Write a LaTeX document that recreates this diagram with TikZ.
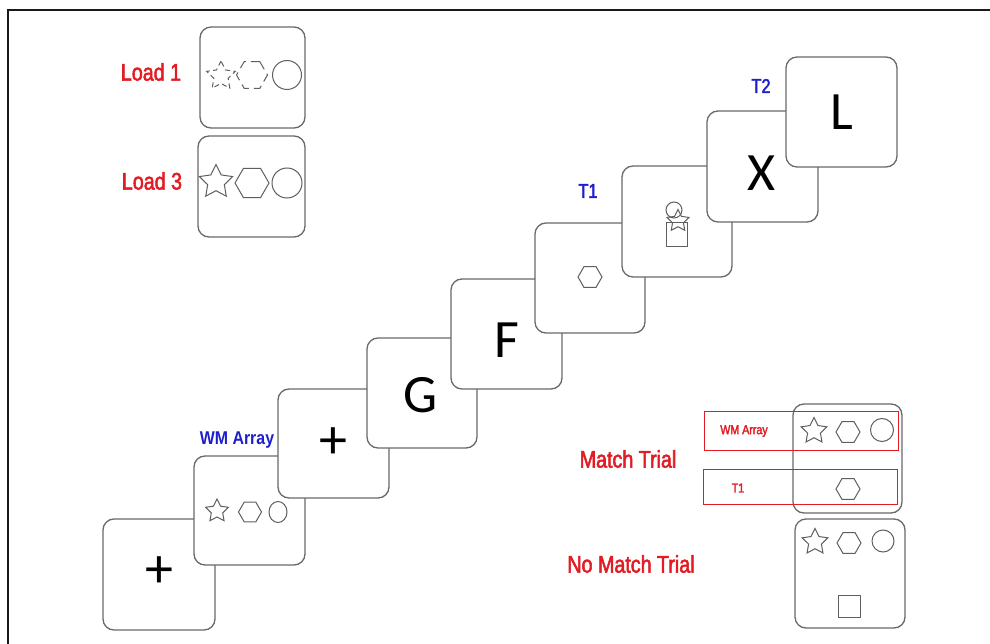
\documentclass[tikz,border=0pt]{standalone}
\usepackage{fontspec}
\setmainfont{Carlito}
\newfontfamily\lblfont[FakeStretch=0.82,FakeBold=2.2]{Liberation Sans}
\newfontfamily\wmfont[FakeStretch=0.86]{Liberation Sans}
\usetikzlibrary{shapes.geometric}
\definecolor{cardgray}{RGB}{105,105,105}
\definecolor{shapegray}{RGB}{95,95,95}
\definecolor{lred}{RGB}{226,28,36}
\definecolor{lblue}{RGB}{30,30,205}
\tikzset{
  card/.style={draw=cardgray, fill=white, line width=1.3pt, rounded corners=11pt, inner sep=0pt},
  shp/.style={draw=shapegray, line width=1pt, inner sep=0pt},
  starshp/.style={shp, star, star points=5, star point ratio=2.0},
  hexshp/.style={shp, regular polygon, regular polygon sides=6},
  circshp/.style={shp, circle},
  big/.style={inner sep=0pt, font=\fontsize{54}{54}\selectfont},
  plusglyph/.style={inner sep=0pt, font=\fontsize{56}{56}\selectfont},
  redlbl/.style={text=lred, inner sep=0pt, font=\lblfont\fontsize{24}{24}\selectfont},
  redsmall/.style={text=lred, inner sep=0pt, font=\lblfont\fontsize{13}{13}\selectfont},
  bluelbl/.style={text=lblue, inner sep=0pt, font=\lblfont\fontsize{20}{20}\selectfont},
  bluebold/.style={text=lblue, inner sep=0pt, font=\wmfont\bfseries\fontsize{18.5}{18.5}\selectfont},
  redbox/.style={draw=lred, line width=1pt},
}
\begin{document}
\begin{tikzpicture}[x=1pt,y=-1pt]
\useasboundingbox (0,0) rectangle (990,644);
\fill[white] (0,0) rectangle (990,644);
% frame
\draw[line width=2.2pt, black!90] (8,644) -- (8,10) -- (990,10);

% load examples
\node[card, minimum width=105pt, minimum height=101pt] (load1) at (252.5,77.5) {};
\node[starshp, minimum size=30pt, dash pattern=on 5pt off 3.5pt] (l1s) at (221,76) {};
\node[hexshp, minimum size=31pt, dash pattern=on 9pt off 5pt] (l1h) at (252,75) {};
\node[circshp, minimum size=29pt] (l1c) at (287,75) {};
\node[redlbl] (load1lbl) at (151,72) {Load 1};

\node[card, minimum width=107pt, minimum height=101pt] (load3) at (251.5,186.5) {};
\node[starshp, minimum size=35pt] (l3s) at (216,182) {};
\node[hexshp, minimum size=34pt] (l3h) at (252,183) {};
\node[circshp, minimum size=30pt] (l3c) at (287,183) {};
\node[redlbl] (load3lbl) at (152,181) {Load 3};

% sequence
\node[card, minimum width=112pt, minimum height=111pt] (c1) at (159,574.5) {};
\node[plusglyph] (p1) at (159,572) {+};

\node[card, minimum width=111pt, minimum height=109pt] (c2) at (249.5,510.5) {};
\node[starshp, minimum size=24pt] (c2s) at (217,511) {};
\node[hexshp, minimum size=23pt] (c2h) at (250,512) {};
\node[shp, ellipse, minimum width=18pt, minimum height=21pt] (c2c) at (278,512) {};
\node[bluebold] (wmlbl) at (237,440) {WM Array};

\node[card, minimum width=111pt, minimum height=109pt] (c3) at (333.5,443.5) {};
\node[plusglyph] (p3) at (333,443) {+};

\node[card, minimum width=110pt, minimum height=110pt] (c4) at (422,393) {};
\node[big] (g) at (421,395) {G};

\node[card, minimum width=111pt, minimum height=110pt] (c5) at (506.5,334) {};
\node[big] (f) at (507,340) {F};

\node[card, minimum width=110pt, minimum height=110pt] (c6) at (590,278) {};
\node[hexshp, minimum size=24pt] (c6h) at (590,277) {};

\node[card, minimum width=110pt, minimum height=111pt] (c7) at (677,221.5) {};
\node[circshp, minimum size=16pt] (c7c) at (674,210) {};
\node[shp, rectangle, minimum width=21pt, minimum height=24pt] (c7r) at (676.5,235) {};
\node[starshp, minimum size=23pt] (c7s) at (678,221) {};
\node[bluelbl] (t1lbl) at (588,191) {T1};

\node[card, minimum width=111pt, minimum height=111pt] (c8) at (762.5,166.5) {};
\node[big] (x) at (762,173) {X};
\node[bluelbl] (t2lbl) at (761,86) {T2};

\node[card, minimum width=111pt, minimum height=110pt] (c9) at (841.5,112) {};
\node[big] (l) at (842,112) {L};

% match trial
\node[card, minimum width=109pt, minimum height=109pt] (mt) at (847.5,458.5) {};
\node[starshp, minimum size=27pt] (mts) at (814,431) {};
\node[hexshp, minimum size=24pt] (mth) at (848,432) {};
\node[circshp, minimum size=23pt] (mtc) at (882,430) {};
\node[hexshp, minimum size=24pt] (mth2) at (848,489) {};
\node[redbox, minimum width=194pt, minimum height=39pt, inner sep=0pt] (rb1) at (801,430.5) {};
\node[redbox, minimum width=194pt, minimum height=35pt, inner sep=0pt] (rb2) at (800,486.5) {};
\node[redsmall] (rwm) at (744,431) {WM Array};
\node[redsmall] (rt1) at (738,488) {T1};
\node[redlbl] (mtlbl) at (628,459) {Match Trial};

% no match trial
\node[card, minimum width=110pt, minimum height=109pt] (nm) at (850,573.5) {};
\node[starshp, minimum size=27pt] (nms) at (815,542) {};
\node[hexshp, minimum size=24pt] (nmh) at (849,543) {};
\node[circshp, minimum size=22pt] (nmc) at (883,541) {};
\node[shp, rectangle, minimum width=22pt, minimum height=22pt] (nmr) at (849,606) {};
\node[redlbl] (nmlbl) at (631,564) {No Match Trial};
\end{tikzpicture}
\end{document}
